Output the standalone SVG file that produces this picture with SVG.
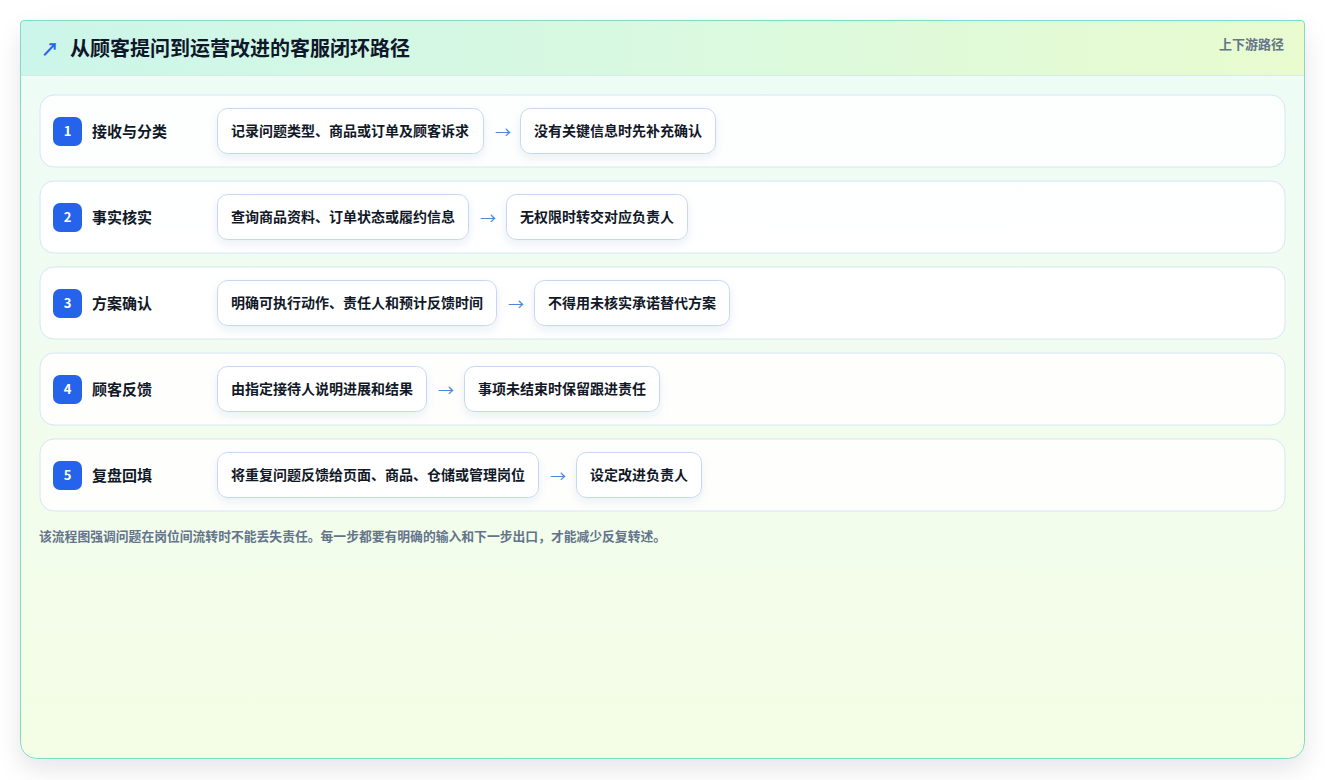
<svg xmlns="http://www.w3.org/2000/svg" width="1325" height="780" viewBox="0 0 1325 780">
<defs>
<linearGradient id="hdr" x1="0" y1="0" x2="1" y2="0">
<stop offset="0" stop-color="#ccf6ea"/>
<stop offset="0.5" stop-color="#d9f9e0"/>
<stop offset="1" stop-color="#e9fbcf"/>
</linearGradient>
<linearGradient id="bodyg" x1="0" y1="0" x2="0" y2="1">
<stop offset="0" stop-color="#eefcf8"/>
<stop offset="1" stop-color="#f4fde5"/>
</linearGradient>
<filter id="cardsh" x="-10%" y="-10%" width="120%" height="125%">
<feDropShadow dx="0" dy="10" stdDeviation="12" flood-color="#0f172a" flood-opacity="0.10"/>
</filter>
<filter id="boxsh" x="-20%" y="-40%" width="140%" height="200%">
<feDropShadow dx="0" dy="4" stdDeviation="4" flood-color="#1e3a8a" flood-opacity="0.08"/>
</filter>
</defs>
<style>
text{font-family:"Noto Sans CJK SC","Noto Sans",sans-serif;}
.row{fill:#ffffff;fill-opacity:0.88;stroke:#d5e6f4;stroke-width:1;}
.badge{fill:#2563eb;}
.num{fill:#ffffff;font-size:13px;font-weight:700;text-anchor:middle;}
.lbl{fill:#111827;font-size:15px;font-weight:700;}
.box{fill:#ffffff;stroke:#c6d8f1;stroke-width:1;filter:url(#boxsh);}
.bt{fill:#111827;font-size:14px;font-weight:700;}
.arr{fill:#4f86d9;font-size:16px;text-anchor:middle;}
</style>
<rect width="1325" height="780" fill="#ffffff"/>
<g id="card">
<rect x="20.5" y="20.5" width="1284" height="738" rx="16" fill="url(#bodyg)" stroke="#7fdccb" filter="url(#cardsh)"/>
<path d="M20.5 75 V24 Q20.5 20.5 24 20.5 H1301 Q1304.5 20.5 1304.5 24 V75 Z" fill="url(#hdr)"/>
<path d="M20.5 75 V24 Q20.5 20.5 24 20.5 H1301 Q1304.5 20.5 1304.5 24 V75" fill="none" stroke="#7fdccb"/>
<line x1="21" y1="75.5" x2="1304" y2="75.5" stroke="#d3ede6"/>
<text x="50" y="56" fill="#2563eb" font-size="18" font-weight="700" text-anchor="middle">↗</text>
<text x="70" y="56" fill="#0f172a" font-size="20" font-weight="700">从顾客提问到运营改进的客服闭环路径</text>
<text x="1284" y="49" fill="#64748b" font-size="13" font-weight="700" text-anchor="end">上下游路径</text>
</g>
<g id="step1">
<rect class="row" x="40" y="95" width="1245" height="72" rx="14"/>
<rect class="badge" x="53" y="117" width="29" height="29" rx="7"/>
<text class="num" x="67.5" y="136">1</text>
<text class="lbl" x="92" y="137">接收与分类</text>
<rect class="box" x="217.5" y="108.5" width="266" height="45" rx="10"/>
<text class="bt" x="231" y="136">记录问题类型、商品或订单及顾客诉求</text>
<rect class="box" x="520.5" y="108.5" width="195" height="45" rx="10"/>
<text class="bt" x="534" y="136">没有关键信息时先补充确认</text>
</g>
<g id="step2">
<rect class="row" x="40" y="181" width="1245" height="72" rx="14"/>
<rect class="badge" x="53" y="203" width="29" height="29" rx="7"/>
<text class="num" x="67.5" y="222">2</text>
<text class="lbl" x="92" y="223">事实核实</text>
<rect class="box" x="217.5" y="194.5" width="251" height="45" rx="10"/>
<text class="bt" x="231" y="222">查询商品资料、订单状态或履约信息</text>
<rect class="box" x="506.5" y="194.5" width="181" height="45" rx="10"/>
<text class="bt" x="520" y="222">无权限时转交对应负责人</text>
</g>
<g id="step3">
<rect class="row" x="40" y="267" width="1245" height="72" rx="14"/>
<rect class="badge" x="53" y="289" width="29" height="29" rx="7"/>
<text class="num" x="67.5" y="308">3</text>
<text class="lbl" x="92" y="309">方案确认</text>
<rect class="box" x="217.5" y="280.5" width="279" height="45" rx="10"/>
<text class="bt" x="231" y="308">明确可执行动作、责任人和预计反馈时间</text>
<rect class="box" x="534.5" y="280.5" width="195" height="45" rx="10"/>
<text class="bt" x="548" y="308">不得用未核实承诺替代方案</text>
</g>
<g id="step4">
<rect class="row" x="40" y="353" width="1245" height="72" rx="14"/>
<rect class="badge" x="53" y="375" width="29" height="29" rx="7"/>
<text class="num" x="67.5" y="394">4</text>
<text class="lbl" x="92" y="395">顾客反馈</text>
<rect class="box" x="217.5" y="366.5" width="209" height="45" rx="10"/>
<text class="bt" x="231" y="394">由指定接待人说明进展和结果</text>
<rect class="box" x="464.5" y="366.5" width="195" height="45" rx="10"/>
<text class="bt" x="478" y="394">事项未结束时保留跟进责任</text>
</g>
<g id="step5">
<rect class="row" x="40" y="439" width="1245" height="72" rx="14"/>
<rect class="badge" x="53" y="461" width="29" height="29" rx="7"/>
<text class="num" x="67.5" y="480">5</text>
<text class="lbl" x="92" y="481">复盘回填</text>
<rect class="box" x="217.5" y="452.5" width="321" height="45" rx="10"/>
<text class="bt" x="231" y="480">将重复问题反馈给页面、商品、仓储或管理岗位</text>
<rect class="box" x="576.5" y="452.5" width="125" height="45" rx="10"/>
<text class="bt" x="590" y="480">设定改进负责人</text>
</g>
<g id="connectors">
<text class="arr" x="503" y="138">→</text>
<text class="arr" x="488" y="224">→</text>
<text class="arr" x="516" y="310">→</text>
<text class="arr" x="446" y="396">→</text>
<text class="arr" x="558" y="482">→</text>
</g>
<text x="39" y="541" fill="#64748b" font-size="12.8" font-weight="700">该流程图强调问题在岗位间流转时不能丢失责任。每一步都要有明确的输入和下一步出口，才能减少反复转述。</text>
</svg>
